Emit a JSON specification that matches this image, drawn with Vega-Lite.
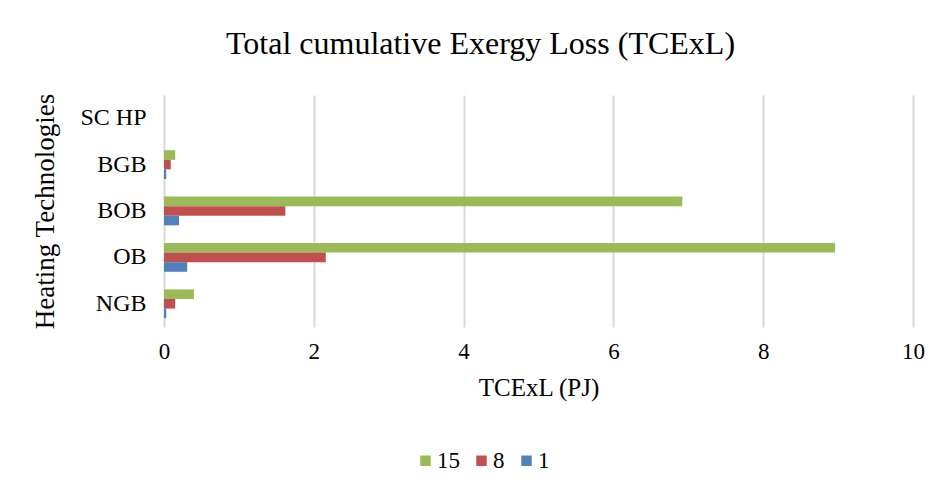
{
  "$schema": "https://vega.github.io/schema/vega-lite/v6.json",
  "width": 749,
  "height": 232,
  "autosize": "none",
  "padding": {"left": 164, "top": 95, "right": 26, "bottom": 168},
  "background": "white",
  "title": {
    "text": "Total cumulative Exergy Loss (TCExL)",
    "font": "Liberation Serif",
    "fontSize": 32,
    "fontWeight": "normal",
    "color": "#000000",
    "anchor": "middle",
    "dx": -58,
    "offset": 32
  },
  "config": {
    "view": {"stroke": null},
    "font": "Liberation Serif"
  },
  "data": {
    "values": [
      {"tech": "SC HP", "series": "15", "value": 0.0},
      {"tech": "SC HP", "series": "8", "value": 0.0},
      {"tech": "SC HP", "series": "1", "value": 0.0},
      {"tech": "BGB", "series": "15", "value": 0.15},
      {"tech": "BGB", "series": "8", "value": 0.09},
      {"tech": "BGB", "series": "1", "value": 0.03},
      {"tech": "BOB", "series": "15", "value": 6.92},
      {"tech": "BOB", "series": "8", "value": 1.62},
      {"tech": "BOB", "series": "1", "value": 0.2},
      {"tech": "OB", "series": "15", "value": 8.96},
      {"tech": "OB", "series": "8", "value": 2.16},
      {"tech": "OB", "series": "1", "value": 0.31},
      {"tech": "NGB", "series": "15", "value": 0.4},
      {"tech": "NGB", "series": "8", "value": 0.15},
      {"tech": "NGB", "series": "1", "value": 0.03}
    ]
  },
  "mark": {"type": "bar"},
  "encoding": {
    "y": {
      "field": "tech",
      "type": "nominal",
      "sort": ["SC HP", "BGB", "BOB", "OB", "NGB"],
      "scale": {"paddingInner": 0.38, "paddingOuter": 0.19},
      "axis": {
        "title": "Heating Technologies",
        "titleFont": "Liberation Serif",
        "titleFontSize": 27,
        "titleFontWeight": "normal",
        "titleColor": "#000000",
        "titlePadding": 20,
        "labelFont": "Liberation Serif",
        "labelFontSize": 24,
        "labelColor": "#000000",
        "labelPadding": 18,
        "ticks": false,
        "domain": false,
        "grid": false
      }
    },
    "yOffset": {
      "field": "series",
      "type": "nominal",
      "sort": ["15", "8", "1"]
    },
    "x": {
      "field": "value",
      "type": "quantitative",
      "scale": {"domain": [0, 10], "nice": false},
      "axis": {
        "title": "TCExL (PJ)",
        "titleFont": "Liberation Serif",
        "titleFontSize": 25,
        "titleFontWeight": "normal",
        "titleColor": "#000000",
        "titlePadding": 12,
        "labelFont": "Liberation Serif",
        "labelFontSize": 23,
        "labelColor": "#000000",
        "labelPadding": 13,
        "labelFlush": false,
        "values": [0, 2, 4, 6, 8, 10],
        "ticks": false,
        "domain": false,
        "grid": true,
        "gridColor": "#d9d9d9",
        "gridWidth": 2
      }
    },
    "color": {
      "field": "series",
      "type": "nominal",
      "sort": ["15", "8", "1"],
      "scale": {"domain": ["15", "8", "1"], "range": ["#9BBB59", "#C0504D", "#4F81BD"]},
      "legend": {
        "title": null,
        "orient": "none",
        "legendX": 250,
        "legendY": 354,
        "direction": "horizontal",
        "symbolType": "square",
        "symbolSize": 110,
        "symbolStrokeWidth": 0,
        "labelFont": "Liberation Serif",
        "labelFontSize": 23,
        "labelColor": "#000000",
        "columnPadding": 10,
        "labelOffset": 0
      }
    }
  }
}
